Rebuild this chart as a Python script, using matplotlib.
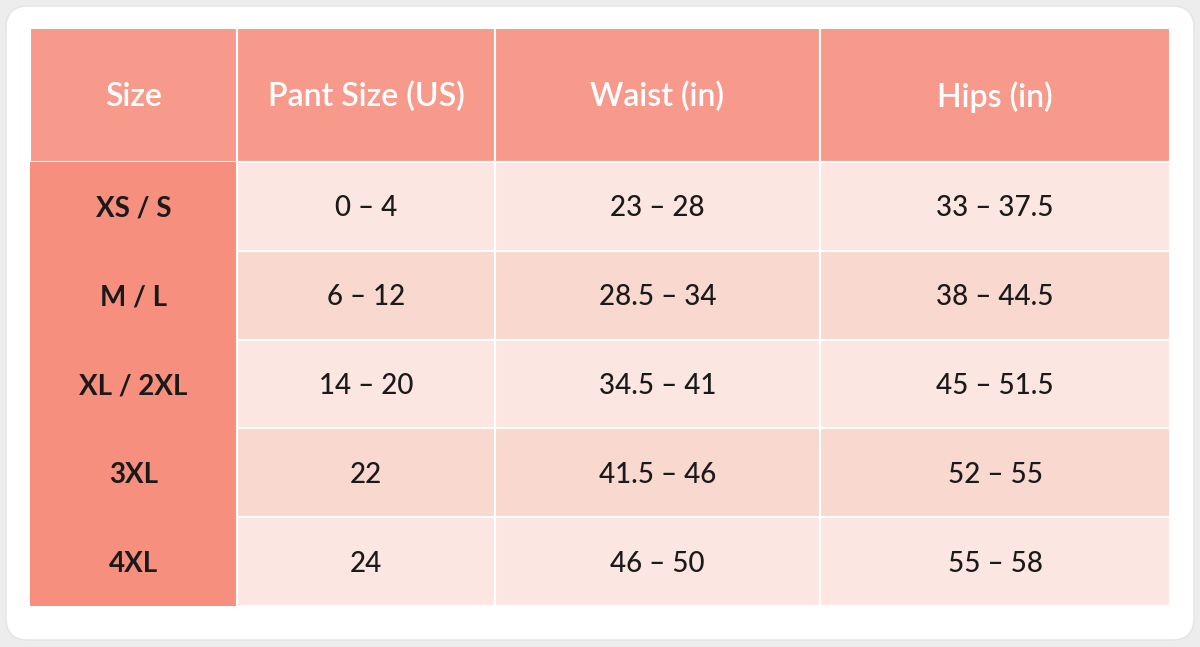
import matplotlib.pyplot as plt
from matplotlib.patches import Rectangle, FancyBboxPatch

plt.rcParams["font.family"] = ["Lato", "DejaVu Sans"]

headers = ["Size", "Pant Size (US)", "Waist (in)", "Hips (in)"]
sizes = ["XS / S", "M / L", "XL / 2XL", "3XL", "4XL"]
pant_sizes = ["0 – 4", "6 – 12", "14 – 20", "22", "24"]
waist = ["23 – 28", "28.5 – 34", "34.5 – 41", "41.5 – 46", "46 – 50"]
hips = ["33 – 37.5", "38 – 44.5", "45 – 51.5", "52 – 55", "55 – 58"]

# layout in pixels
col_edges = [30, 237, 495, 820, 1170]
header_top, header_bottom = 28, 162
row_h = 88.8

header_color = "#f89a8b"
first_col_color = "#f78f7f"
body_colors = ["#fce6e1", "#f9d8cf"]

fig = plt.figure(figsize=(12, 6.47), dpi=100)
fig.patch.set_facecolor("#ededed")
ax = fig.add_axes([0, 0, 1, 1])
ax.set_xlim(0, 1200)
ax.set_ylim(647, 0)
ax.axis("off")

ax.add_patch(FancyBboxPatch((6, 6), 1188, 634, boxstyle="round,pad=0,rounding_size=22",
                            facecolor="white", edgecolor="#e4e4e4", lw=1))

# header
for j, h in enumerate(headers):
    x0, x1 = col_edges[j], col_edges[j + 1]
    ax.add_patch(Rectangle((x0, header_top), x1 - x0, header_bottom - header_top,
                           facecolor=header_color, edgecolor="white", lw=1.5))
    ax.text((x0 + x1) / 2, 97, h, ha="center", va="center", color="white",
            fontsize=23, fontweight="semibold")

columns = [sizes, pant_sizes, waist, hips]
for i in range(len(sizes)):
    y0 = header_bottom + i * row_h
    for j, col in enumerate(columns):
        x0, x1 = col_edges[j], col_edges[j + 1]
        fc = first_col_color if j == 0 else body_colors[i % 2]
        ax.add_patch(Rectangle((x0, y0), x1 - x0, row_h, facecolor=fc,
                               edgecolor="white" if j > 0 else "none", lw=1.5))
        ax.text((x0 + x1) / 2, y0 + row_h / 2 + 2, col[i], ha="center", va="center",
                color="#1a1a1a", fontsize=20, fontweight="bold" if j == 0 else "medium")

fig.savefig("out.png", dpi=100, facecolor=fig.get_facecolor())
